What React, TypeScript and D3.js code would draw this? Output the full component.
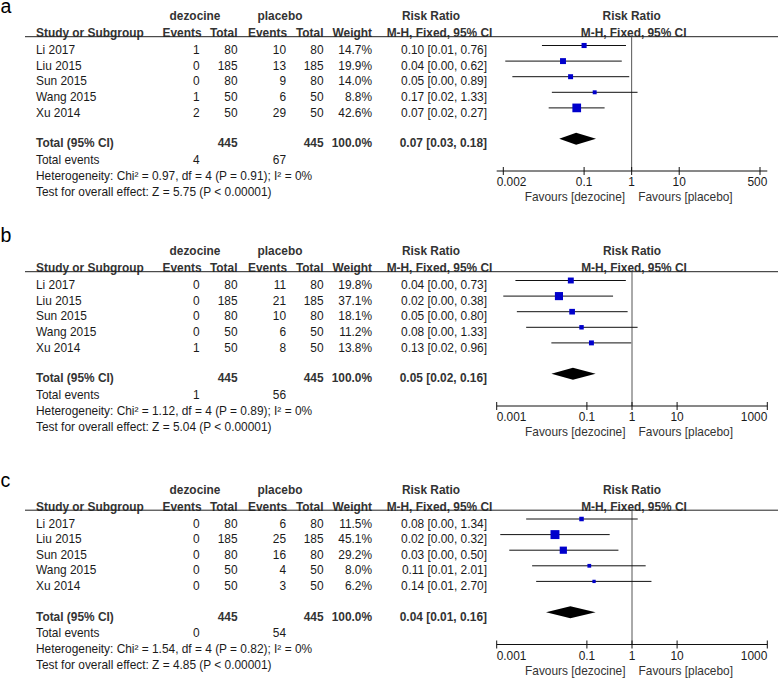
import React from "react";
import * as d3 from "d3";

const studies = ["Li 2017", "Liu 2015", "Sun 2015", "Wang 2015", "Xu 2014"];
const totalsDez = [80, 185, 80, 50, 50];
const totalsPla = [80, 185, 80, 50, 50];

// panel a
const aEventsDez = [1, 0, 0, 1, 2];
const aEventsPla = [10, 13, 9, 6, 29];
const aWeights = [14.7, 19.9, 14.0, 8.8, 42.6];
const aRR = [0.1, 0.036, 0.052, 0.167, 0.07];
const aLo = [0.013, 0.0022, 0.0031, 0.021, 0.018];
const aHi = [0.76, 0.62, 0.89, 1.33, 0.27];
const aTotal = [0.068, 0.03, 0.178];
const aTotalEvents = [4, 67];
const aHet = ["0.97", "4", "0.91", "0"];
const aZ = ["5.75", "0.00001"];
const aTicks = [0.002, 0.1, 1, 10, 500];

// panel b
const bEventsDez = [0, 0, 0, 0, 1];
const bEventsPla = [11, 21, 10, 6, 8];
const bWeights = [19.8, 37.1, 18.1, 11.2, 13.8];
const bRR = [0.044, 0.024, 0.047, 0.076, 0.126];
const bLo = [0.0026, 0.0014, 0.0028, 0.0045, 0.0163];
const bHi = [0.73, 0.38, 0.8, 1.33, 0.96];
const bTotal = [0.049, 0.0163, 0.156];
const bTotalEvents = [1, 56];
const bHet = ["1.12", "4", "0.89", "0"];
const bZ = ["5.04", "0.00001"];
const bTicks = [0.001, 0.1, 1, 10, 1000];

// panel c
const cEventsDez = [0, 0, 0, 0, 0];
const cEventsPla = [6, 25, 16, 4, 3];
const cWeights = [11.5, 45.1, 29.2, 8.0, 6.2];
const cRR = [0.076, 0.0196, 0.03, 0.113, 0.144];
const cLo = [0.0045, 0.0012, 0.0019, 0.0061, 0.0075];
const cHi = [1.34, 0.32, 0.5, 2.01, 2.7];
const cTotal = [0.043, 0.0124, 0.156];
const cTotalEvents = [0, 54];
const cHet = ["1.54", "4", "0.82", "0"];
const cZ = ["4.85", "0.00001"];
const cTicks = [0.001, 0.1, 1, 10, 1000];

const panelLabels = ["a", "b", "c"];
const totalN = [445, 445];

type Panel = {
  label: string;
  evD: number[];
  evP: number[];
  w: number[];
  rr: number[];
  lo: number[];
  hi: number[];
  tot: number[];
  totEv: number[];
  het: string[];
  z: string[];
  ticks: number[];
};

const panels: Panel[] = [
  { label: panelLabels[0], evD: aEventsDez, evP: aEventsPla, w: aWeights, rr: aRR, lo: aLo, hi: aHi, tot: aTotal, totEv: aTotalEvents, het: aHet, z: aZ, ticks: aTicks },
  { label: panelLabels[1], evD: bEventsDez, evP: bEventsPla, w: bWeights, rr: bRR, lo: bLo, hi: bHi, tot: bTotal, totEv: bTotalEvents, het: bHet, z: bZ, ticks: bTicks },
  { label: panelLabels[2], evD: cEventsDez, evP: cEventsPla, w: cWeights, rr: cRR, lo: cLo, hi: cHi, tot: cTotal, totEv: cTotalEvents, het: cHet, z: cZ, ticks: cTicks },
];

const offsets = [0, 235, 473.5];
const labelYs = [12.5, 241.5, 486.5];
const ranges: [number, number][] = [
  [503.3, 760],
  [496.7, 767.3],
  [496.7, 767.3],
];
const AXIS_X0 = 496.7;
const AXIS_X1 = 767.3;

const FS = 11.9;
const FONT = "'Liberation Sans', Arial, Helvetica, sans-serif";
const TXT = "#1a1a1a";
const HEAD = "#333";

const fmt = (v: number) => v.toFixed(2);

function PanelView({ p, idx }: { p: Panel; idx: number }) {
  const oy = offsets[idx];
  const x = d3.scaleLog().domain([p.ticks[0], p.ticks[p.ticks.length - 1]]).range(ranges[idx]);
  const x1 = x(1);
  const headLineY = 36.7;
  const rowY0 = 50;
  const rowStep = 15.6;
  const totalY = 143.3;
  const axisY = 171;
  const plotShift = -4.5;

  const colStudy = 36;
  const colEvD = 199.5;
  const colTotD = 237.5;
  const colEvP = 286;
  const colTotP = 323.5;
  const colW = 372;
  const colRR = 487;

  const sq = d3.scaleSqrt().domain([0, 100]).range([0, 13.3]);

  const t = (s: string | number, xx: number, yy: number, anchor: string, bold = false, fill = TXT) => (
    <text x={xx} y={yy} dy="0.35em" textAnchor={anchor as any} fontWeight={bold ? "bold" : "normal"} fill={fill}>
      {s}
    </text>
  );

  const ty = totalY + plotShift;
  const diamond = `M${x(p.tot[1])},${ty} L${x(p.tot[0])},${ty - 6} L${x(p.tot[2])},${ty} L${x(p.tot[0])},${ty + 6} Z`;
  const nT = p.ticks.length;

  return (
    <g transform={`translate(0,${oy})`}>
      <text x={0.5} y={labelYs[idx] - oy} fontSize={19.5} fill="#000">
        {p.label}
      </text>
      {/* headers */}
      {t("dezocine", 195, 16, "middle", true, HEAD)}
      {t("placebo", 280, 16, "middle", true, HEAD)}
      {t("Risk Ratio", 431, 16, "middle", true, HEAD)}
      {t("Risk Ratio", x1, 16, "middle", true, HEAD)}
      {t("Study or Subgroup", colStudy, 33, "start", true, HEAD)}
      {t("Events", colEvD + 2, 33, "end", true, HEAD)}
      {t("Total", colTotD, 33, "end", true, HEAD)}
      {t("Events", colEvP + 1, 33, "end", true, HEAD)}
      {t("Total", colTotP, 33, "end", true, HEAD)}
      {t("Weight", colW, 33, "end", true, HEAD)}
      {t("M-H, Fixed, 95% CI", 439.5, 33, "middle", true, HEAD)}
      {t("M-H, Fixed, 95% CI", x1 + 2, 33, "middle", true, HEAD)}
      <line x1={25} x2={778} y1={headLineY} y2={headLineY} stroke="#222" strokeWidth={1} />
      {/* vertical line of no effect */}
      <line x1={x1} x2={x1} y1={headLineY} y2={axisY} stroke="#555" strokeWidth={1} />
      {/* rows */}
      {studies.map((s, i) => {
        const y = rowY0 + i * rowStep;
        const py = y + plotShift;
        const side = Math.max(3, sq(p.w[i]));
        return (
          <g key={s}>
            {t(s, colStudy, y, "start")}
            {t(p.evD[i], colEvD, y, "end")}
            {t(totalsDez[i], colTotD, y, "end")}
            {t(p.evP[i], colEvP, y, "end")}
            {t(totalsPla[i], colTotP, y, "end")}
            {t(p.w[i].toFixed(1) + "%", colW, y, "end")}
            {t(`${fmt(p.rr[i])} [${fmt(p.lo[i])}, ${fmt(p.hi[i])}]`, colRR, y, "end")}
            <line x1={x(p.lo[i])} x2={x(p.hi[i])} y1={py} y2={py} stroke="#111" strokeWidth={1} />
            <rect x={x(p.rr[i]) - side / 2} y={py - side / 2} width={side} height={side} fill="#0000CC" />
          </g>
        );
      })}
      {/* totals */}
      {t("Total (95% CI)", colStudy, totalY, "start", true, HEAD)}
      {t(totalN[0], colTotD, totalY, "end", true, HEAD)}
      {t(totalN[1], colTotP, totalY, "end", true, HEAD)}
      {t("100.0%", colW, totalY, "end", true, HEAD)}
      {t(`${fmt(p.tot[0])} [${fmt(p.tot[1])}, ${fmt(p.tot[2])}]`, colRR, totalY, "end", true, HEAD)}
      <path d={diamond} fill="#000" />
      {t("Total events", colStudy, 159.6, "start")}
      {t(p.totEv[0], colEvD, 159.6, "end")}
      {t(p.totEv[1], colEvP, 159.6, "end")}
      {t(`Heterogeneity: Chi² = ${p.het[0]}, df = ${p.het[1]} (P = ${p.het[2]}); I² = ${p.het[3]}%`, colStudy, 175.6, "start")}
      {t(`Test for overall effect: Z = ${p.z[0]} (P < ${p.z[1]})`, colStudy, 191.6, "start")}
      {/* axis */}
      <line x1={AXIS_X0} x2={AXIS_X1} y1={axisY} y2={axisY} stroke="#111" strokeWidth={1} />
      {p.ticks.map((v, k) => {
        const anchor = k === 0 ? "start" : k === nT - 1 ? "end" : "middle";
        const lx = k === 0 ? AXIS_X0 : k === nT - 1 ? AXIS_X1 : x(v);
        return (
          <g key={v}>
            <line x1={x(v)} x2={x(v)} y1={axisY - 4} y2={axisY + 4} stroke="#111" strokeWidth={1} />
            {t(String(v), lx, axisY + 11, anchor)}
          </g>
        );
      })}
      {t("Favours [dezocine]", x1 - 6.5, axisY + 26, "end", false, "#333")}
      {t("Favours [placebo]", x1 + 6.5, axisY + 26, "start", false, "#333")}
    </g>
  );
}

export default function App() {
  return (
    <svg
      width={778}
      height={678}
      style={{ position: "absolute", left: 0, top: 0, background: "#fff" }}
      fontFamily={FONT}
      fontSize={FS}
    >
      <rect width={778} height={678} fill="#fff" />
      {panels.map((p, i) => (
        <PanelView key={p.label} p={p} idx={i} />
      ))}
    </svg>
  );
}
